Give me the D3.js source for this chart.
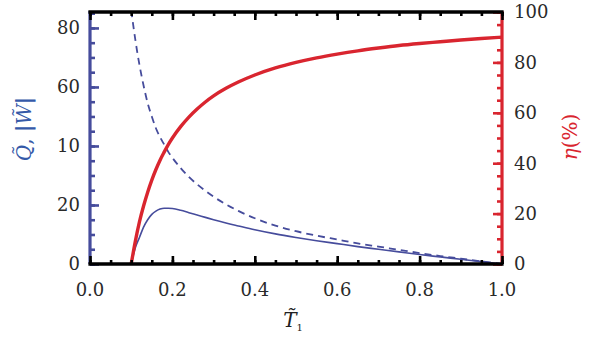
<!DOCTYPE html>
<html>
<head>
<meta charset="utf-8">
<script src="https://cdn.jsdelivr.net/npm/d3@7"></script>
<style>
  body { margin: 0; background: #fff; }
  svg { display: block; }
</style>
</head>
<body>
<script>
const WIDTH = 590
const HEIGHT = 343

// Data
const t1 = [0.10, 0.11, 0.12, 0.13, 0.14, 0.15, 0.16, 0.17, 0.18, 0.19, 0.20, 0.22, 0.24, 0.26, 0.28,
  0.30, 0.33, 0.36, 0.40, 0.45, 0.50, 0.55, 0.60, 0.65, 0.70, 0.75, 0.80, 0.85, 0.90, 0.95, 1.00]
const work = [0, 5.5, 9, 12.5, 15, 16.8, 17.9, 18.6, 18.9, 18.9, 18.8, 18.2, 17.4, 16.6, 15.8,
  15.0, 13.9, 12.9, 11.6, 10.2, 9.0, 7.9, 6.9, 5.9, 5.0, 4.1, 3.2, 2.4, 1.6, 0.8, 0]
const heat = [86, 76, 67.5, 60.5, 54.5, 50, 46, 43, 40.5, 38, 36, 32.5, 29.5, 27, 24.8,
  22.8, 20.2, 18, 15.5, 13, 11.1, 9.6, 8.3, 7.0, 5.9, 4.8, 3.7, 2.7, 1.8, 0.9, 0]
const eff = [0, 9, 16.7, 23, 28.5, 33.3, 37.5, 41.2, 44.4, 47.4, 50, 54.5, 58.3, 61.5, 64.3,
  66.7, 69.7, 72.2, 75, 77.8, 80, 81.8, 83.3, 84.6, 85.7, 86.7, 87.5, 88.2, 88.9, 89.5, 90]

const xTicks = [0, 0.2, 0.4, 0.6, 0.8, 1.0]
const leftTicks = [0, 20, 40, 60, 80]
const leftTickLabels = ["0", "20", "10", "60", "80"]
const rightTicks = [0, 20, 40, 60, 80, 100]

// Constants
const margin = { top: 12, right: 88, bottom: 79, left: 90 }
const BLUE = "#464c9c"
const TITLE_BLUE = "#3559a8"
const RED = "#d9252f"
const FONT = "'DejaVu Serif', serif"

const x = d3.scaleLinear([0, 1], [margin.left, WIDTH - margin.right])
const yL = d3.scaleLinear([0, 85.4], [HEIGHT - margin.bottom, margin.top])
const yR = d3.scaleLinear([0, 100], [HEIGHT - margin.bottom, margin.top])

const svg = d3.select("body").append("svg")
  .attr("width", WIDTH)
  .attr("height", HEIGHT)
  .attr("viewBox", [0, 0, WIDTH, HEIGHT])

svg.append("defs").append("clipPath").attr("id", "clip")
  .append("rect")
    .attr("x", margin.left).attr("y", margin.top)
    .attr("width", x(1) - x(0)).attr("height", yL(0) - margin.top)

const I = d3.range(t1.length)
const lineOf = (scale, V) => d3.line().curve(d3.curveMonotoneX).x(i => x(t1[i])).y(i => scale(V[i]))

const plot = svg.append("g").attr("clip-path", "url(#clip)").attr("fill", "none")

plot.append("path")
  .attr("stroke", BLUE).attr("stroke-width", 1.8)
  .attr("stroke-dasharray", "7,5")
  .attr("d", lineOf(yL, heat)(I))

plot.append("path")
  .attr("stroke", BLUE).attr("stroke-width", 1.6)
  .attr("d", lineOf(yL, work)(I))

plot.append("path")
  .attr("stroke", RED).attr("stroke-width", 3.4)
  .attr("d", lineOf(yR, eff)(I))

// Axes
const minor = (lo, hi, step) => d3.range(lo, hi + step / 2, step)

svg.append("g")
  .attr("transform", `translate(${x(0)},0)`)
  .call(d3.axisRight(yL).tickValues(minor(0, 85, 5)).tickSize(5).tickFormat(""))
  .call(g => g.select(".domain").remove())
  .call(g => g.selectAll(".tick line").attr("stroke", BLUE).attr("stroke-width", 2.6))
svg.append("g")
  .attr("transform", `translate(${x(0)},0)`)
  .call(d3.axisRight(yL).tickValues(leftTicks).tickSize(9).tickFormat(""))
  .call(g => g.select(".domain").remove())
  .call(g => g.selectAll(".tick line").attr("stroke", BLUE).attr("stroke-width", 2.6))
svg.append("line")
  .attr("x1", x(0)).attr("x2", x(0)).attr("y1", yL.range()[1] - 1).attr("y2", yL(0))
  .attr("stroke", BLUE).attr("stroke-width", 3.2)

svg.append("g")
  .attr("transform", `translate(${x(1)},0)`)
  .call(d3.axisLeft(yR).tickValues(minor(0, 100, 5)).tickSize(5).tickFormat(""))
  .call(g => g.select(".domain").remove())
  .call(g => g.selectAll(".tick line").attr("stroke", RED).attr("stroke-width", 2.6))
svg.append("g")
  .attr("transform", `translate(${x(1)},0)`)
  .call(d3.axisLeft(yR).tickValues(rightTicks).tickSize(9).tickFormat(""))
  .call(g => g.select(".domain").remove())
  .call(g => g.selectAll(".tick line").attr("stroke", RED).attr("stroke-width", 2.6))
svg.append("line")
  .attr("x1", x(1)).attr("x2", x(1)).attr("y1", yR.range()[1] - 1).attr("y2", yR(0))
  .attr("stroke", RED).attr("stroke-width", 3.2)

for (const [axis, y0] of [[d3.axisTop, yL(0)], [d3.axisBottom, yL.range()[1]]]) {
  for (const [vals, len] of [[minor(0, 1, 0.05), 4], [xTicks, 8]]) {
    svg.append("g")
      .attr("transform", `translate(0,${y0})`)
      .call(axis(x).tickValues(vals).tickSize(len).tickFormat(""))
      .call(g => g.select(".domain").remove())
      .call(g => g.selectAll(".tick line").attr("stroke", "#000").attr("stroke-width", 2.6))
  }
  svg.append("line")
    .attr("x1", x(0) - 1.6).attr("x2", x(1) + 1.6).attr("y1", y0).attr("y2", y0)
    .attr("stroke", "#000").attr("stroke-width", 3.4)
}

// Tick labels
const labels = svg.append("g")
  .attr("font-family", FONT).attr("font-size", 18).attr("fill", "#2a2a2a")

labels.selectAll(".xl").data(xTicks).join("text")
  .attr("x", d => x(d)).attr("y", 296)
  .attr("text-anchor", "middle")
  .text(d3.format(".1f"))

labels.selectAll(".yl").data(leftTicks).join("text")
  .attr("x", 80).attr("y", d => yL(d)).attr("dy", "0.36em")
  .attr("text-anchor", "end")
  .text((d, i) => leftTickLabels[i])

labels.selectAll(".yr").data(rightTicks).join("text")
  .attr("x", 514).attr("y", d => yR(d)).attr("dy", "0.36em")
  .attr("text-anchor", "start")
  .text(d => d)

// Axis titles
svg.append("text")
  .attr("transform", "translate(31,129) rotate(-90)")
  .attr("text-anchor", "middle")
  .attr("font-family", FONT).attr("font-size", 20).attr("fill", TITLE_BLUE)
  .call(t => t.append("tspan").attr("font-style", "italic").text("Q\u0303"))
  .call(t => t.append("tspan").text(", "))
  .call(t => t.append("tspan").attr("font-weight", "bold").text("|"))
  .call(t => t.append("tspan").attr("font-style", "italic").text("W\u0303"))
  .call(t => t.append("tspan").attr("font-weight", "bold").text("|"))

svg.append("text")
  .attr("transform", "translate(577,137) rotate(-90)")
  .attr("text-anchor", "middle")
  .attr("font-family", FONT).attr("font-size", 20).attr("fill", RED)
  .call(t => t.append("tspan").attr("font-style", "italic").text("\u03b7"))
  .call(t => t.append("tspan").text("(%)"))

svg.append("text")
  .attr("x", 293).attr("y", 327)
  .attr("text-anchor", "middle")
  .attr("font-family", FONT).attr("font-size", 20).attr("fill", "#222")
  .call(t => t.append("tspan").attr("font-style", "italic").text("T\u0303"))
  .call(t => t.append("tspan").attr("font-size", 10).attr("dy", 4).text("1"))
</script>
</body>
</html>
